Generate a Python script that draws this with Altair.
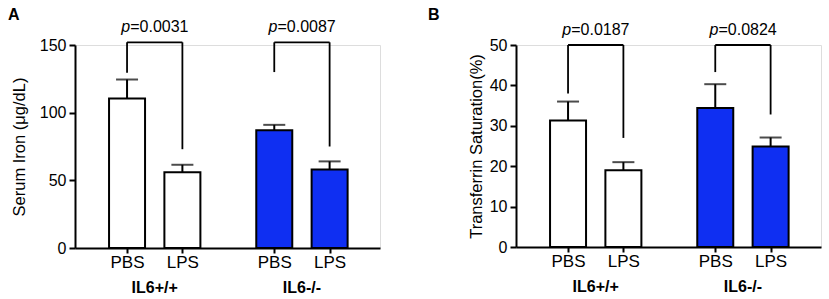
import altair as alt
import pandas as pd

# ---- data ----
groups = ["IL6+/+", "IL6+/+", "IL6-/-", "IL6-/-"]
treatments = ["PBS", "LPS", "PBS", "LPS"]
group_names = ["IL6+/+", "IL6-/-"]

iron_mean = [110.5, 56.0, 87.0, 58.0]
iron_err = [14.0, 5.5, 4.0, 6.0]
iron_p = ["=0.0031", "=0.0087"]
iron_bracket_top = [152.0, 152.0]
iron_bracket_left = [129.5, 130.0]
iron_bracket_right = [73.0, 75.0]

sat_mean = [31.3, 19.0, 34.4, 24.9]
sat_err = [4.7, 2.0, 5.9, 2.2]
sat_p = ["=0.0187", "=0.0824"]
sat_bracket_top = [50.0, 50.0]
sat_bracket_left = [38.0, 43.3]
sat_bracket_right = [27.0, 32.8]

# ---- layout / style ----
FONT = "Liberation Sans"
BLUE = "#0f2ff2"
GROUP_GAP = 2.66
XDOM = [-0.85, 4.48]


def positions():
    out = []
    seen = {}
    for g in groups:
        gi = group_names.index(g)
        k = seen.get(g, 0)
        seen[g] = k + 1
        out.append(gi * GROUP_GAP + k)
    return out


POS = positions()


def label_expr():
    expr = "'" + treatments[-1] + "'"
    for p, t in reversed(list(zip(POS[:-1], treatments[:-1]))):
        expr = f"abs(datum.value-{p})<0.01 ? '{t}' : ({expr})"
    return expr


def panel(mean, err, pvals, btop, bleft, bright, ytitle, ymax, ystep,
          width, height, barw, letter, letter_x, ylabel_size, title_pad):
    df = pd.DataFrame({
        "pos": POS, "group": groups, "treat": treatments,
        "mean": mean, "upper": [m + e for m, e in zip(mean, err)],
    })
    xscale = alt.Scale(domain=XDOM, nice=False, zero=False)
    yscale = alt.Scale(domain=[0, ymax], nice=False)
    xaxis = alt.Axis(values=POS, labelExpr=label_expr(), title=None, grid=False,
                     domainWidth=2, domainColor="black", tickColor="black",
                     tickWidth=2, tickSize=5, labelFont=FONT, labelFontSize=17,
                     labelColor="black", labelPadding=1, labelFlush=False,
                     labelOverlap=False)
    yaxis = alt.Axis(values=list(range(0, ymax + 1, ystep)), title=ytitle,
                     grid=False, domainWidth=2, domainColor="black",
                     tickColor="black", tickWidth=2, tickSize=6,
                     labelFont=FONT, labelFontSize=ylabel_size, labelColor="black",
                     labelPadding=3, titleFont=FONT, titleFontSize=16.5,
                     titleFontWeight="normal", titleColor="black",
                     titlePadding=title_pad)

    x = alt.X("pos:Q", scale=xscale, axis=xaxis)
    bars = alt.Chart(df).mark_bar(width=barw, stroke="black", strokeWidth=2).encode(
        x=x,
        y=alt.Y("mean:Q", scale=yscale, axis=yaxis),
        fill=alt.Fill("group:N", scale=alt.Scale(domain=group_names, range=["white", BLUE]),
                      legend=None),
    )
    err_rule = alt.Chart(df).mark_rule(strokeWidth=2, color="black").encode(
        x=alt.X("pos:Q", scale=xscale), y=alt.Y("mean:Q", scale=yscale), y2="upper:Q")
    caps = alt.Chart(df).mark_tick(orient="horizontal", size=22, thickness=2,
                                   color="black").encode(
        x=alt.X("pos:Q", scale=xscale), y=alt.Y("upper:Q", scale=yscale))

    segs = []
    ptxt = []
    for i in range(len(group_names)):
        xl, xr = POS[2 * i], POS[2 * i + 1]
        segs.append({"x": xl, "x2": xl, "y": bleft[i], "y2": btop[i]})
        segs.append({"x": xl, "x2": xr, "y": btop[i], "y2": btop[i]})
        segs.append({"x": xr, "x2": xr, "y": bright[i], "y2": btop[i]})
        ptxt.append({"x": (xl + xr) / 2, "y": btop[i], "t": pvals[i], "p": "p"})
    sdf = pd.DataFrame(segs)
    pdf = pd.DataFrame(ptxt)
    brackets = alt.Chart(sdf).mark_rule(strokeWidth=1.8, color="black").encode(
        x=alt.X("x:Q", scale=xscale), x2="x2:Q",
        y=alt.Y("y:Q", scale=yscale), y2="y2:Q")
    split = -24.5
    p_italic = alt.Chart(pdf).mark_text(font=FONT, fontSize=16, fontStyle="italic",
                                        align="right", baseline="middle", dx=split,
                                        dy=-15, color="black").encode(
        x=alt.X("x:Q", scale=xscale), y=alt.Y("y:Q", scale=yscale), text="p:N")
    p_rest = alt.Chart(pdf).mark_text(font=FONT, fontSize=16, align="left",
                                      baseline="middle", dx=split, dy=-15,
                                      color="black").encode(
        x=alt.X("x:Q", scale=xscale), y=alt.Y("y:Q", scale=yscale), text="t:N")

    gdf = pd.DataFrame({"g": group_names,
                        "x": [(POS[2 * i] + POS[2 * i + 1]) / 2 for i in range(len(group_names))]})
    glabels = alt.Chart(gdf).mark_text(font=FONT, fontSize=16, fontWeight="bold",
                                       baseline="middle", color="black").encode(
        x=alt.X("x:Q", scale=xscale), y=alt.value(height + 40), text="g:N")

    ldf = pd.DataFrame({"t": [letter]})
    letter_mark = alt.Chart(ldf).mark_text(font=FONT, fontSize=16, fontWeight="bold",
                                           align="left", baseline="middle",
                                           color="black").encode(
        x=alt.value(letter_x), y=alt.value(-30), text="t:N")

    return alt.layer(bars, err_rule, caps, brackets, p_italic, p_rest, glabels,
                     letter_mark).properties(width=width, height=height)


a = panel(iron_mean, iron_err, iron_p, iron_bracket_top, iron_bracket_left,
          iron_bracket_right, "Serum Iron (\u03bcg/dL)", 150, 50, 305, 203, 36,
          "A", -67, 16, 12)
b = panel(sat_mean, sat_err, sat_p, sat_bracket_top, sat_bracket_left,
          sat_bracket_right, "Transferrin Saturation(%)", 50, 10, 305, 202, 36,
          "B", -88, 16, 5)

chart = alt.hconcat(a, b, spacing=46).properties(
    padding={"left": 7, "top": 6, "right": 0, "bottom": 0}
).configure_view(stroke=None).configure(background="white")

chart.save("out.html", embed_options={"renderer": "svg", "actions": False})
